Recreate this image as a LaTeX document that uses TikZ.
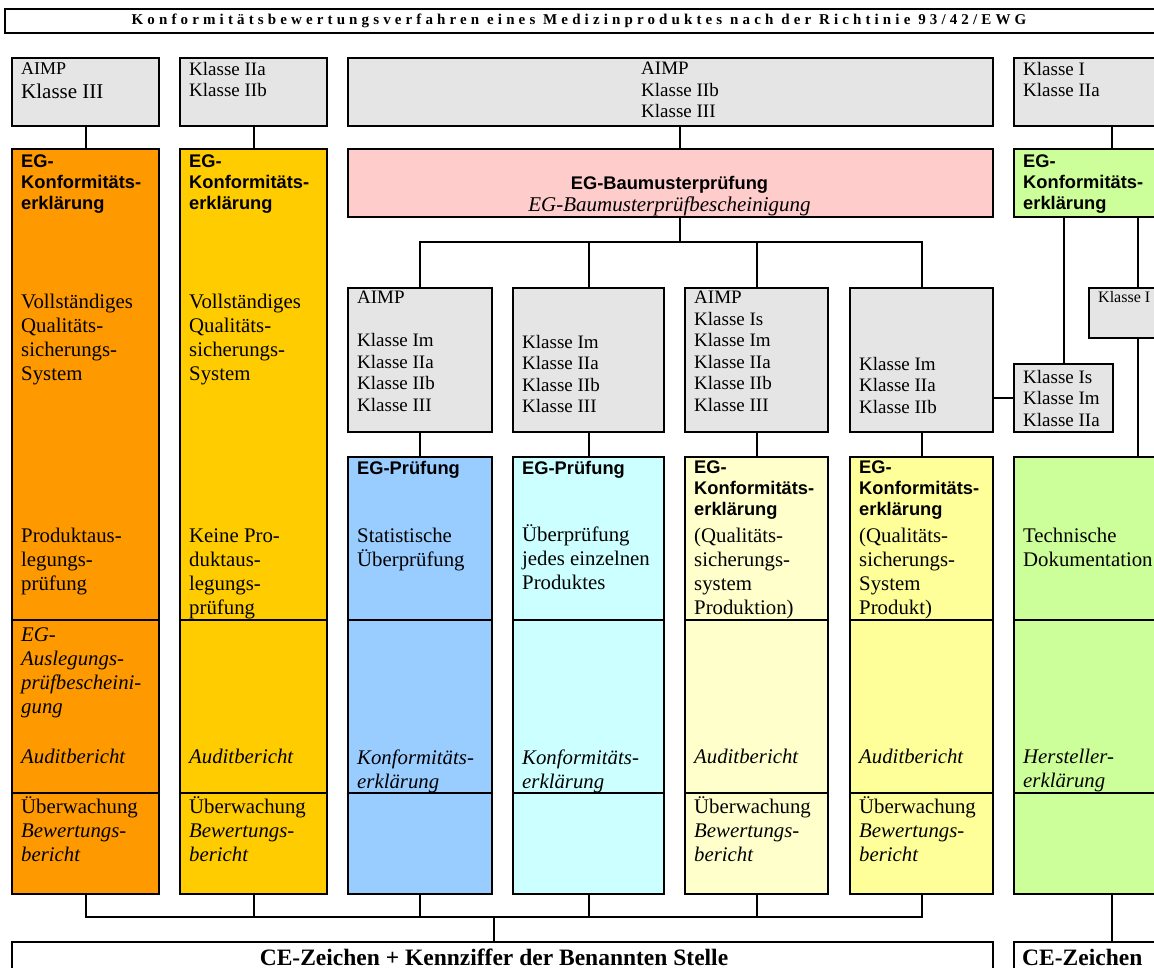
\documentclass[tikz,border=0pt]{standalone}
\usepackage{fontspec}
\setmainfont{Liberation Serif}
\setsansfont{Liberation Sans}
\newfontfamily\spacedserif[LetterSpace=27.5]{Liberation Serif}
\usepackage{tikz}
\usetikzlibrary{positioning}
\definecolor{cellgray}{RGB}{229,229,229}
\definecolor{mdorange}{RGB}{255,153,0}
\definecolor{mdgold}{RGB}{255,204,0}
\definecolor{mdpink}{RGB}{255,204,204}
\definecolor{mdblue}{RGB}{153,204,255}
\definecolor{mdcyan}{RGB}{204,255,255}
\definecolor{mdpale}{RGB}{255,255,204}
\definecolor{mdyellow}{RGB}{255,255,153}
\definecolor{mdgreen}{RGB}{204,255,153}
\newcommand{\bodyfont}{\fontsize{20.8}{24}\selectfont}
\newcommand{\headfont}{\sffamily\bfseries\fontsize{18.3}{21}\selectfont}
\newcommand{\classfont}{\fontsize{19}{21.5}\selectfont}

\begin{document}
\begin{tikzpicture}[x=1pt, y=-1pt,
    cell/.style 2 args={draw, line width=2.2pt, anchor=north west, inner sep=0pt, minimum width=#1pt, minimum height=#2pt},
    txt/.style={anchor=north west, inner sep=0pt, align=left, font=\bodyfont, execute at begin node=\strut},
    ital/.style={txt, font=\bodyfont\itshape},
    head/.style={txt, font=\headfont},
    cls/.style={txt, font=\classfont},
    wire/.style={line width=2.2pt}]
    \path[fill=white] (0,0) rectangle (1154,968);
    \useasboundingbox (0,0) rectangle (1154,968);

    \node[cell={1170}{24}] (title) at (4,8) {};
    \node[anchor=base, inner sep=0pt, font=\spacedserif\bfseries\fontsize{15}{18}\selectfont] (titleText) at (579,25) {Konformitätsbewertungsverfahren eines Medizinproduktes nach der Richtinie 93/42/EWG};

    % top row
    \node[cell={147}{68}, fill=cellgray] (topA) at (11,57) {};
    \node[anchor=base west, inner sep=0pt, font=\fontsize{18}{20}\selectfont] (topAa) at (21,75) {AIMP};
    \node[anchor=base west, inner sep=0pt, font=\fontsize{21}{24}\selectfont] (topAb) at (21,99) {Klasse III};
    \node[cell={147}{68}, fill=cellgray] (topB) at (179,57) {};
    \node[cls] (topBt) at (189,62) {Klasse IIa\\Klasse IIb};
    \node[cell={645}{68}, fill=cellgray] (topC) at (347,57) {};
    \node[cls] (topCt) at (641,62) {AIMP\\Klasse IIb\\Klasse III};
    \node[cell={170}{68}, fill=cellgray] (topD) at (1013,57) {};
    \node[cls] (topDt) at (1023,62) {Klasse I\\Klasse IIa};

    % boxes
    \node[cell={147}{745}, fill=mdorange] (colA) at (11,148) {};
    \node[cell={147}{745}, fill=mdgold] (colB) at (179,148) {};
    \node[cell={645}{68}, fill=mdpink] (bmp) at (347,148) {};
    \node[cell={170}{68}, fill=mdgreen] (greenHead) at (1013,148) {};
    \node[cell={144}{144}, fill=cellgray] (modA) at (347,287) {};
    \node[cell={151}{144}, fill=cellgray] (modB) at (512,287) {};
    \node[cell={143}{144}, fill=cellgray] (modC) at (684,287) {};
    \node[cell={143}{144}, fill=cellgray] (modD) at (849,287) {};
    \node[cell={98}{50}, fill=cellgray] (klI) at (1088,287) {};
    \node[cell={99}{68}, fill=cellgray] (klIs) at (1013,363) {};
    \node[cell={144}{437}, fill=mdblue] (colC) at (347,456) {};
    \node[cell={151}{437}, fill=mdcyan] (colD) at (512,456) {};
    \node[cell={143}{437}, fill=mdpale] (colE) at (684,456) {};
    \node[cell={143}{437}, fill=mdyellow] (colF) at (849,456) {};
    \node[cell={170}{437}, fill=mdgreen] (colG) at (1013,456) {};
    \node[cell={981}{60}] (ce) at (11,941) {};
    \node[cell={170}{60}] (ceOnly) at (1013,941) {};

    \foreach \c in {colA,colB,colC,colD,colE,colF,colG} {
        \draw[wire] (\c.west |- 0,620) -- (\c.east |- 0,620);
        \draw[wire] (\c.west |- 0,793) -- (\c.east |- 0,793);
    }

    % connectors
    \coordinate (split) at (680,242);
    \coordinate (bus) at (494,917);
    \coordinate (rx) at (1112,0);
    \draw[wire] (topA.south) -- (colA.north);
    \draw[wire] (topB.south) -- (colB.north);
    \draw[wire] (topC.south -| split) -- (bmp.north -| split);
    \draw[wire] (bmp.south -| split) -- (split);
    \draw[wire] (modA.north) |- (split) -| (modD.north);
    \draw[wire] (modB.north) -- (modB.north |- split);
    \draw[wire] (modC.north) -- (modC.north |- split);
    \foreach \m/\c in {modA/colC,modB/colD,modC/colE,modD/colF}
        \draw[wire] (\m.south) -- (\c.north);
    \draw[wire] (modD.east |- klIs.west) -- (klIs.west);
    \draw[wire] (topD.south -| rx) -- (greenHead.north -| rx);
    \draw[wire] (greenHead.south -| klIs.north) -- (klIs.north);
    \draw[wire] (greenHead.south -| klI.north) -- (klI.north);
    \draw[wire] (klI.south) -- (colG.north -| klI.south);
    \draw[wire] (colG.south -| rx) -- (ceOnly.north -| rx);
    \draw[wire] (colA.south) |- (bus) -| (colF.south);
    \foreach \c in {colB,colC,colD,colE}
        \draw[wire] (\c.south) -- (\c.south |- bus);
    \draw[wire] (bus) -- (ce.north -| bus);

    % texts
    \node[head] (aHead) at (21,154.3) {EG-\\Konformitäts-\\erklärung};
    \node[txt] (aQs) at (21,294.2) {Vollständiges\\Qualitäts-\\sicherungs-\\System};
    \node[txt] (aPa) at (21,528.2) {Produktaus-\\legungs-\\prüfung};
    \node[ital] (aCert) at (21,627.2) {EG-\\Auslegungs-\\prüfbescheini-\\gung};
    \node[ital] (aAudit) at (21,746.2) {Auditbericht};
    \node[txt] (aWatch) at (21,796.2) {Überwachung\\\textit{Bewertungs-}\\\textit{bericht}};

    \node[head] (bHead) at (189,154.3) {EG-\\Konformitäts-\\erklärung};
    \node[txt] (bQs) at (189,294.2) {Vollständiges\\Qualitäts-\\sicherungs-\\System};
    \node[txt] (bPa) at (189,528.2) {Keine Pro-\\duktaus-\\legungs-\\prüfung};
    \node[ital] (bAudit) at (189,746.2) {Auditbericht};
    \node[txt] (bWatch) at (189,796.2) {Überwachung\\\textit{Bewertungs-}\\\textit{bericht}};

    \node[anchor=base, inner sep=0pt, font=\headfont] (bmpHead) at (669.5,190) {EG-Baumusterprüfung};
    \node[anchor=base, inner sep=0pt, font=\fontsize{21}{24}\selectfont\itshape] (bmpCert) at (669.5,212) {EG-Baumusterprüfbescheinigung};
    \node[head] (gHead) at (1023,154.3) {EG-\\Konformitäts-\\erklärung};

    \node[cls] (modAt) at (357,291) {AIMP\\[21.5pt]Klasse Im\\Klasse IIa\\Klasse IIb\\Klasse III};
    \node[cls] (modBt) at (522,335) {Klasse Im\\Klasse IIa\\Klasse IIb\\Klasse III};
    \node[cls] (modCt) at (694,291) {AIMP\\Klasse Is\\Klasse Im\\Klasse IIa\\Klasse IIb\\Klasse III};
    \node[cls] (modDt) at (859,357) {Klasse Im\\Klasse IIa\\Klasse IIb};
    \node[anchor=base west, inner sep=0pt, font=\fontsize{16}{18}\selectfont] (klIt) at (1098,303) {Klasse I};
    \node[cls] (klIst) at (1023,370) {Klasse Is\\Klasse Im\\Klasse IIa};

    \node[head] (cHead) at (357,459.3) {EG-Prüfung};
    \node[txt] (cTest) at (357,528.2) {Statistische\\Überprüfung};
    \node[ital] (cDecl) at (357,749.2) {Konformitäts-\\erklärung};

    \node[head] (dHead) at (522,459.3) {EG-Prüfung};
    \node[txt] (dTest) at (522,524.2) {Überprüfung\\jedes einzelnen\\Produktes};
    \node[ital] (dDecl) at (522,749.2) {Konformitäts-\\erklärung};

    \node[head] (eHead) at (694,460.3) {EG-\\Konformitäts-\\erklärung};
    \node[txt] (eQs) at (694,528.2) {(Qualitäts-\\sicherungs-\\system\\Produktion)};
    \node[ital] (eAudit) at (694,746.2) {Auditbericht};
    \node[txt] (eWatch) at (694,796.2) {Überwachung\\\textit{Bewertungs-}\\\textit{bericht}};

    \node[head] (fHead) at (859,460.3) {EG-\\Konformitäts-\\erklärung};
    \node[txt] (fQs) at (859,528.2) {(Qualitäts-\\sicherungs-\\System\\Produkt)};
    \node[ital] (fAudit) at (859,746.2) {Auditbericht};
    \node[txt] (fWatch) at (859,796.2) {Überwachung\\\textit{Bewertungs-}\\\textit{bericht}};

    \node[txt] (gDoc) at (1023,528.2) {Technische\\Dokumentation};
    \node[ital] (gDecl) at (1023,749.2) {Hersteller-\\erklärung};

    \node[anchor=base, inner sep=0pt, font=\bfseries\fontsize{23.5}{26}\selectfont] (ceText) at (494,965) {CE-Zeichen + Kennziffer der Benannten Stelle};
    \node[anchor=base west, inner sep=0pt, font=\bfseries\fontsize{23.5}{26}\selectfont] (ceOnlyText) at (1022,965) {CE-Zeichen};
\end{tikzpicture}
\end{document}
